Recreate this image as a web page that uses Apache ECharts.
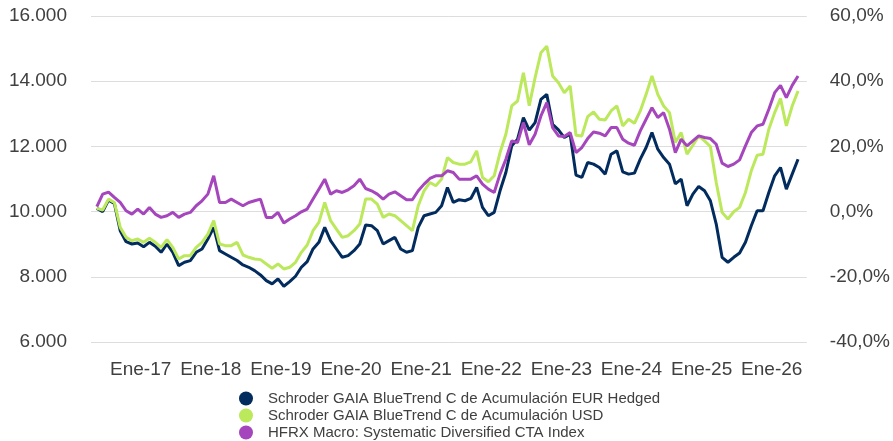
<!DOCTYPE html>
<html>
<head>
<meta charset="utf-8">
<script src="https://cdn.jsdelivr.net/npm/echarts@6/dist/echarts.min.js"></script>
<style>html,body{margin:0;padding:0;background:#fff;}#c{width:893px;height:441px;}</style>
</head>
<body>
<div id="c"></div>
<script>
// Series names
var seriesNames = [
  'Schroder GAIA BlueTrend C de Acumulación EUR Hedged',
  'Schroder GAIA BlueTrend C de Acumulación USD',
  'HFRX Macro: Systematic Diversified CTA Index'
];
// Tick labels (placed at each January)
var tickDates = ['2017-01-01','2018-01-01','2019-01-01','2020-01-01','2021-01-01','2022-01-01','2023-01-01','2024-01-01','2025-01-01','2026-01-01'];
var tickLabels = ['Ene-17','Ene-18','Ene-19','Ene-20','Ene-21','Ene-22','Ene-23','Ene-24','Ene-25','Ene-26'];
// Monthly (mid-month) readings, May 2016 .. May 2026
var startYear = 2016, startMonth = 5;
var eurHedged = [10100,10000,10350,10250,9414,9077,9006,9037,8924,9057,8935,8751,9006,8751,8343,8445,8496,8751,8853,9159,
  9516,8802,8700,8598,8500,8363,8292,8190,8057,7884,7782,7935,7711,7853,8017,8292,8465,8853,9057,9516,
  9108,8853,8598,8649,8802,9006,9587,9567,9414,9006,9109,9211,8854,8752,8803,9517,9874,9925,9976,10180,
  10741,10282,10364,10333,10404,10741,10129,9874,9976,10639,11200,12016,12220,12883,12500,12730,13444,13597,12679,12506,
  12271,12373,11118,11047,11506,11455,11353,11149,11761,11863,11220,11149,11180,11608,11965,12424,11914,11659,11455,10850,
  10996,10180,10537,10772,10639,10333,9619,8599,8446,8599,8732,9058,9568,10027,10027,10588,11098,11353,10690,11149,11608];
var usd = [10100,10050,10383,10281,9516,9210,9108,9159,9057,9179,9057,8904,9138,8904,8547,8649,8649,8904,9057,9312,
  9720,9006,8955,8955,9057,8669,8598,8547,8527,8394,8261,8394,8241,8292,8445,8751,8975,9414,9669,10281,
  9720,9465,9210,9261,9414,9618,10383,10383,10230,9822,9925,9874,9721,9568,9415,10180,10639,10894,10792,10996,
  11659,11506,11455,11455,11526,11863,11047,10914,11098,11812,12373,13240,13393,14260,13250,14107,14872,15076,14158,13954,
  13648,13852,12342,12322,12914,13056,12832,12812,13087,13240,12628,12832,12710,13087,13597,14158,13597,13240,13036,12118,
  12424,11761,12036,12322,12169,11996,10894,9976,9772,9996,10129,10588,11251,11730,11761,12526,13036,13464,12628,13240,13699];
var hfrx = [10150,10536,10600,10434,10281,10026,9924,10077,9924,10128,9924,9822,9873,9975,9822,9924,9975,10179,10332,10536,
  11100,10281,10281,10383,10281,10179,10281,10332,10383,9822,9822,9975,9649,9771,9873,9995,10077,10383,10689,10995,
  10536,10638,10587,10669,10791,10995,10709,10638,10536,10383,10537,10608,10486,10364,10364,10639,10843,11016,11098,11098,
  11251,11200,10996,10996,10996,11098,10843,10690,10588,11149,11608,12169,12118,12730,12050,12373,12934,13342,12577,12322,
  12302,12424,11812,11965,12240,12444,12404,12322,12577,12577,12220,12098,12036,12475,12832,13189,12883,13036,12526,11812,
  12220,12016,12169,12322,12271,12240,12067,11486,11384,11455,11588,12016,12424,12628,12679,13138,13648,13872,13495,13872,14158];

function pad2(n){return (n<10?'0':'')+n;}
// Half-month categories from mid-April 2016 to July 2026
var categories = [];
for (var i = 0; i < 246; i++) {
  var mOff, day;
  if (i % 2 === 1) { mOff = (i - 1) / 2 + 1; day = '01'; } else { mOff = i / 2; day = '15'; }
  var tot = (4 - 1) + mOff; // April 2016 base
  var y = 2016 + Math.floor(tot / 12), m = tot % 12 + 1;
  categories.push(y + '-' + pad2(m) + '-' + day);
}
function buildData(vals){
  var out = [];
  for (var k = 0; k < vals.length; k++) {
    var tot = (startMonth - 1) + k;
    var y = startYear + Math.floor(tot / 12), m = tot % 12 + 1;
    out.push([y + '-' + pad2(m) + '-15', vals[k]]);
  }
  return out;
}
var colors = ['#022b5e', '#bce85c', '#a646bd'];
var txt = '#404040';
var ff = 'Liberation Sans, Arial, sans-serif';
var chart = echarts.init(document.getElementById('c'), null, {renderer: 'canvas'});
chart.setOption({
  animation: false,
  grid: {left: 91, right: 85, top: 16, bottom: 99},
  legend: {
    orient: 'vertical', left: 239, top: 390, height: 120, itemGap: 0,
    itemWidth: 14, itemHeight: 14, icon: 'circle', padding: 0,
    textStyle: {fontSize: 15, lineHeight: 17, color: txt, fontFamily: ff, padding: [0,0,0,10]},
    data: seriesNames
  },
  xAxis: {
    type: 'category', data: categories, boundaryGap: false,
    axisLine: {show: false}, axisTick: {show: false},
    axisLabel: {
      margin: 18, fontSize: 19, color: txt, fontFamily: ff,
      interval: function(idx, val){ return tickDates.indexOf(val) >= 0; },
      formatter: function(val){ var j = tickDates.indexOf(val); return j >= 0 ? tickLabels[j] : ''; }
    },
    splitLine: {show: false}
  },
  yAxis: [{
    type: 'value', min: 6000, max: 16000, interval: 2000, position: 'left',
    axisLine: {show: false}, axisTick: {show: false},
    axisLabel: {margin: 24, fontSize: 19, color: txt, fontFamily: ff,
      formatter: function(v){ return Math.floor(v/1000) + '.' + ('00' + (v % 1000)).slice(-3); }},
    splitLine: {lineStyle: {color: '#dddddd', width: 1}}
  }, {
    type: 'value', min: -40, max: 60, interval: 20, position: 'right',
    axisLine: {show: false}, axisTick: {show: false},
    axisLabel: {margin: 23, fontSize: 19, color: txt, fontFamily: ff,
      formatter: function(v){ return v.toFixed(1).replace('.', ',') + '%'; }},
    splitLine: {show: false}
  }],
  series: [
    {name: seriesNames[0], type: 'line', data: buildData(eurHedged), showSymbol: false, symbol: 'none', lineStyle: {width: 3, color: colors[0]}, itemStyle: {color: colors[0]}, z: 2},
    {name: seriesNames[1], type: 'line', data: buildData(usd), showSymbol: false, symbol: 'none', lineStyle: {width: 3, color: colors[1]}, itemStyle: {color: colors[1]}, z: 3},
    {name: seriesNames[2], type: 'line', data: buildData(hfrx), showSymbol: false, symbol: 'none', lineStyle: {width: 3, color: colors[2]}, itemStyle: {color: colors[2]}, z: 4}
  ]
});
</script>
</body>
</html>
